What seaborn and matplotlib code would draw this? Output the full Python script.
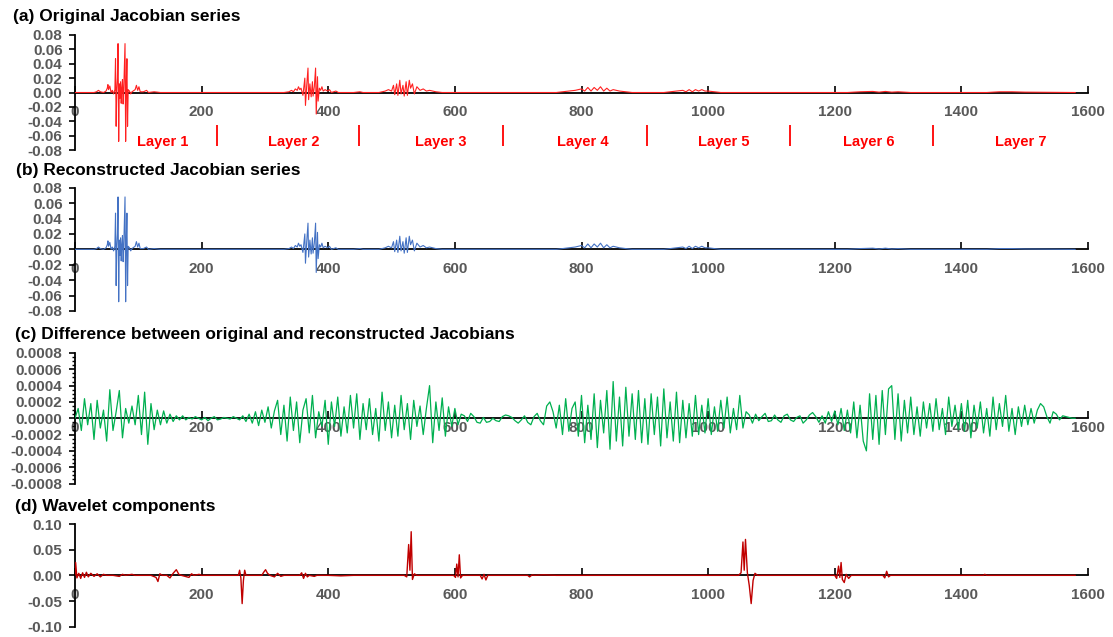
import numpy as np
import pandas as pd
import matplotlib
matplotlib.use("Agg")
import matplotlib.pyplot as plt
import seaborn as sns
from matplotlib.ticker import FormatStrFormatter, MultipleLocator

# ---------------- data ----------------
# (a) original Jacobian series: sparse (index, value) points, zero elsewhere
orig_x = [0, 30, 34, 37, 40, 45, 49, 51, 52, 53, 55, 57, 59, 61, 63, 64, 65, 66, 67, 68, 69, 70, 71, 72, 73,
          74, 75, 76, 77, 79, 80, 81, 82, 83, 84, 86, 88, 90, 95, 97, 99, 101, 103, 108, 113, 116, 125, 135,
          330, 338, 342, 345, 348, 351, 353, 355, 357, 360, 363, 364, 366, 368, 369, 371, 373, 375, 376,
          378, 380, 381, 383, 384, 386, 388, 390, 392, 395, 399, 402, 405, 412, 416, 440, 450, 455,
          480, 490, 495, 500, 503, 505, 508, 510, 513, 515, 518, 520, 523, 525, 528, 530, 533, 536, 540,
          545, 550, 555, 560, 570, 580,
          760, 770, 780, 790, 800, 805, 810, 815, 820, 825, 830, 835, 840, 845, 850, 860, 870, 880,
          930, 940, 950, 960, 965, 970, 975, 980, 985, 990, 995, 1000, 1010, 1020,
          1220, 1240, 1260, 1270, 1280, 1290, 1300, 1320,
          1440, 1460, 1480, 1500, 1580]
orig_y = [0, 0, 0.001, 0.003, 0.001, 0, 0.002, 0.006, 0.011, 0.004, 0.009, 0, 0.003, -0.002, 0.004, 0.047,
          -0.047, 0.004, 0.020, 0.068, -0.068, 0.012, -0.008, 0.015, -0.015,
          0.006, 0.018, -0.016, 0.004, 0.068, -0.068, 0.010, 0.047, -0.047, 0.004, 0.002, -0.002, 0.001, 0.004,
          0.010, 0.003, 0.008, 0.001, 0.001, 0.003, 0, 0.001, 0,
          0, 0.001, 0.003, 0.001, 0.005, 0.003, 0.008, 0.004, 0.006, -0.004, 0.020, -0.018, 0.010, 0.034,
          -0.010, 0.012, -0.006, 0.015, -0.005,
          0.008, 0.034, -0.030, 0.022, -0.012, 0.006, 0.003, 0.008, 0.002, 0.004, 0.002, 0.004, 0, 0.002, 0,
          0, 0.001, 0,
          0, 0.002, 0.004, 0.002, 0.010, -0.003, 0.012, -0.004, 0.017, -0.002, 0.010, -0.005, 0.015, -0.004,
          0.017, 0.006, 0.012, -0.002, 0.008,
          0.003, 0.005, 0.002, 0.003, 0.001, 0,
          0, 0.001, 0.002, 0.003, 0.005, 0.002, 0.007, 0.002, 0.007, 0.003, 0.008, 0.002, 0.006, 0.002,
          0.004, 0.002, 0.001, 0,
          0, 0.001, 0.002, 0.003, 0.001, 0.004, 0.001, 0.004, 0.002, 0.004, 0.002, 0.002, 0.001, 0,
          0, 0.001, 0.0015, 0.0005, 0.0015, 0.0005, 0.001, 0,
          0, 0.001, 0.001, 0.0005, 0]

# (b) reconstructed series: indistinguishable from (a) at this scale
recon_x = list(orig_x)
recon_y = list(orig_y)

# (c) difference series, sampled every 5 indices (0..1580), values in units of 1e-4
diff_step = 5
diff_e4 = [
    0.0, 1.2, -1.5, 2.4, -0.8, 1.8, -2.6, 2.2, -1.2, 1.0, -2.8, 3.5, -1.5, 0.8, 3.4, -2.4, 1.2, -0.6, 1.5, -0.8,
    2.8, -2.0, 3.2, -3.2, 1.8, -1.4, 1.0, -0.8, 0.9, -0.6, 0.5, -0.4, 0.3, -0.2, 0.3, -0.2, 0.1, -0.1, 0.2, 0.0,
    -0.2, 0.1, -0.3, 0.0, 0.2, -0.2, -0.1, 0.1, 0.0, -0.1, 0.2, 0.0, -0.2, 0.3, -0.4, 0.5, -0.6, 0.8, -0.9, 1.0,
    -0.5, 1.4, -1.2, 0.9, 2.2, -2.0, 1.6, -2.8, 2.6, -1.5, 2.0, -3.0, 1.0, 2.4, -1.8, 2.8, -2.4, 0.8, -1.0, 2.2,
    -3.2, 2.0, -1.0, 2.6, -2.2, 1.4, -1.8, 2.8, -1.2, 3.0, -2.6, 1.8, -1.4, 2.4, -2.0, 1.2, -2.8, 3.2, -1.5, 2.0,
    -2.4, 1.6, -2.2, 2.8, -1.4, 1.8, -2.6, 2.2, -1.0, 1.5, -2.0, 1.2, 4.0, -3.0, 2.0, -1.5, 2.5, -2.2, 1.4, -1.0,
    1.2, -0.8, 0.5, 0.3, -0.4, 0.6, 0.2, -0.5, -0.6, 0.1, -0.5, -0.4, 0.0, -0.3, -0.4, 0.2, 0.4, 0.3, 0.1, -0.3,
    -0.6, -0.2, 0.3, -0.5, -0.8, 0.2, 0.6, -0.3, -0.8, 1.5, 2.0, 0.8, -1.2, 1.6, -2.0, 2.4, -1.6, 1.2, 2.0, -2.2,
    2.8, -3.0, 1.6, -2.6, 3.0, -3.6, 2.2, -1.8, 3.4, -3.8, 4.5, -2.8, 2.6, -3.4, 3.8, -2.2, 3.0, -2.6, 3.4, -3.0,
    2.4, -3.2, 3.0, -2.0, 2.6, -3.4, 3.6, -2.4, 2.0, -2.8, 3.2, -3.0, 2.2, -2.4, 1.8, -2.2, 2.8, -2.0, 1.6, -1.8,
    2.4, -2.0, 1.4, -1.6, 2.2, -1.2, 2.6, -1.8, 1.2, -1.4, 2.8, -1.2, 0.8, 0.4, -0.6, 0.5, -0.3, 0.2, 0.6, -0.4,
    -0.3, 0.4, -0.2, -0.5, 0.3, 0.5, -0.2, -0.4, 0.1, 0.3, -0.6, -0.2, 0.4, 0.7, 0.2, -0.5, 0.3, -0.6, 0.8, -0.4,
    0.9, -0.8, 1.2, -1.5, 1.0, -1.8, 2.0, -2.4, 1.6, -2.8, -4.0, 3.0, -2.6, 2.8, -3.2, 3.4, -2.0, 3.6, 4.0, -2.6,
    3.0, -2.8, 2.2, -1.8, 2.6, -2.0, 1.4, -2.2, 2.0, -1.2, 1.8, -1.6, 2.4, -1.4, 1.2, -2.0, 2.6, -1.0, 1.6, -1.4,
    1.8, -1.6, 2.2, -2.4, 1.6, -1.2, 2.0, -1.8, 1.2, -2.2, 2.6, -1.4, 1.8, -1.0, 2.8, -1.6, 1.2, -2.0, 1.4, -1.0,
    1.6, -0.8, 1.2, -0.6, 1.0, 1.8, 1.4, 0.2, -0.6, 0.8, 0.5, -0.2, 0.3, 0.2, 0.1, 0.0, 0.0,
]

# (d) wavelet components: sparse (index, value) points
wave_x = [0, 1, 3, 6, 9, 12, 15, 18, 21, 25, 30, 35, 40, 45, 50, 60, 70, 75, 80, 90, 95, 120, 128, 131, 134,
          138, 145, 150, 155, 160, 164, 168, 180, 184, 188, 196, 200, 258, 260, 262, 264, 266, 268, 270,
          295, 298, 301, 304, 308, 315, 320, 325, 330, 355, 358, 361, 364, 367, 370, 378, 382, 400, 420,
          440, 520, 524, 527, 529, 531, 533, 536, 540, 598, 601, 603, 605, 607, 609, 612, 640, 643, 646,
          649, 652, 715, 718, 722, 726, 740, 760, 1048, 1052, 1055, 1057, 1059, 1062, 1065, 1068, 1071,
          1074, 1078, 1200, 1203, 1206, 1208, 1210, 1212, 1215, 1218, 1222, 1226, 1276, 1279, 1282, 1285,
          1288, 1435, 1437, 1440, 1580]
wave_y = [0.0, 0.025, -0.005, 0.004, -0.006, 0.005, -0.004, 0.006, -0.003, 0.004, -0.002, 0.003, -0.003,
          0.002, 0, 0, -0.002, 0.002, 0, 0.002, 0, 0, -0.004, -0.012, 0.003,
          0, 0, -0.005, 0.004, 0.011, 0.002, 0, -0.004, 0.003, 0, 0.002, 0, 0, 0.010, -0.005, -0.055, -0.010,
          0.010, 0,
          0, 0.006, 0.011, 0.004, 0, -0.003, 0.004, -0.002, 0, 0, 0.005, -0.006, 0.004, -0.003, 0, -0.002, 0,
          0, -0.001,
          0, 0, -0.003, 0.060, 0.010, 0.085, -0.008, 0.003, 0, 0, -0.004, 0.022, -0.003, 0.040, -0.005, 0, 0,
          -0.007, 0.002,
          -0.009, 0, 0, -0.003, 0.001, 0, 0.001, 0, 0, 0.005, 0.065, 0.010, 0.070, 0.005, -0.020, -0.055,
          -0.010,
          0.004, 0, 0, -0.006, 0.018, -0.004, 0.025, -0.008, -0.014, 0.002, -0.006, 0, 0, -0.005, 0.008,
          -0.003,
          0, 0, 0.002, 0, 0]

# layer annotations of panel (a)
layer_names = ["Layer 1", "Layer 2", "Layer 3", "Layer 4", "Layer 5", "Layer 6", "Layer 7"]
layer_label_x = [139, 345, 578, 802, 1025, 1253, 1493]
layer_bounds = [224, 449, 676, 903, 1129, 1355]

titles = ["(a) Original Jacobian series",
          "(b) Reconstructed Jacobian series",
          "(c) Difference between original and reconstructed Jacobians",
          "(d) Wavelet components"]
x_ticks = [0, 200, 400, 600, 800, 1000, 1200, 1400, 1600]

# ---------------- figure ----------------
sns.set_style("white")
plt.rcParams['font.family'] = ['Liberation Sans', 'DejaVu Sans']
plt.rcParams['axes.unicode_minus'] = False

W, H = 1113, 637
fig = plt.figure(figsize=(W / 100, H / 100), dpi=100)

def make_axes(top_px, bottom_px):
    return fig.add_axes([75 / W, 1 - bottom_px / H, 1013 / W, (bottom_px - top_px) / H])

GRAY = '#595959'

def style(ax, lim, step, fmt, xpad, minor=None):
    ax.set_xlim(0, 1600)
    ax.set_ylim(-lim, lim)
    ax.patch.set_alpha(0)
    for s in ['top', 'right']:
        ax.spines[s].set_visible(False)
    ax.spines['bottom'].set_position(('data', 0))
    for s in ['left', 'bottom']:
        ax.spines[s].set_color('black')
        ax.spines[s].set_linewidth(1.3)
    ax.set_xticks(x_ticks)
    ax.yaxis.set_major_locator(MultipleLocator(step))
    if minor:
        ax.yaxis.set_minor_locator(MultipleLocator(minor))
        ax.tick_params(axis='y', which='minor', left=True, direction='out', length=2.5, width=1.0, color='black')
    ax.yaxis.set_major_formatter(FormatStrFormatter(fmt))
    ax.tick_params(axis='x', bottom=True, direction='in', length=5, width=1.2, pad=xpad,
                   labelsize=11, labelcolor=GRAY, color='black')
    ax.tick_params(axis='y', left=True, direction='out', length=4, width=1.2, pad=5,
                   labelsize=11, labelcolor=GRAY, color='black')
    for lbl in ax.get_xticklabels() + ax.get_yticklabels():
        lbl.set_fontweight('bold')
    ax.set_xlabel('')
    ax.set_ylabel('')

# (a)
ax_a = make_axes(35, 150)
sns.lineplot(x=orig_x, y=orig_y, ax=ax_a, color='#FF2020', linewidth=0.8, estimator=None, zorder=3)
style(ax_a, 0.08, 0.02, '%.2f', 9)
ax_a.vlines(layer_bounds, -0.075, -0.045, color='#FF0000', linewidth=1.3)
for name, lx in zip(layer_names, layer_label_x):
    ax_a.text(lx, -0.069, name, color='#FF0000', fontsize=10.5, fontweight='bold', ha='center', va='center')

# (b)
ax_b = make_axes(187.7, 311)
sns.lineplot(x=recon_x, y=recon_y, ax=ax_b, color='#4472C4', linewidth=0.8, estimator=None, zorder=3)
style(ax_b, 0.08, 0.02, '%.2f', 9)

# (c)
ax_c = make_axes(353, 483.5)
diff_x = np.arange(len(diff_e4)) * diff_step
diff_y = np.array(diff_e4) * 1e-4
sns.lineplot(x=diff_x, y=diff_y, ax=ax_c, color='#00B050', linewidth=0.9, estimator=None, zorder=3)
style(ax_c, 0.0008, 0.0002, '%.4f', 2, minor=0.00005)

# (d)
ax_d = make_axes(524, 626.7)
sns.lineplot(x=wave_x, y=wave_y, ax=ax_d, color='#C00000', linewidth=1.0, estimator=None, zorder=3)
style(ax_d, 0.10, 0.05, '%.2f', 9)

title_pos = [(13, 17), (16, 170), (15, 335), (15, 507)]
for t, (tx, ty) in zip(titles, title_pos):
    fig.text(tx / W, 1 - ty / H, t, fontsize=12.5, fontweight='bold', color='black', va='center', ha='left')

fig.savefig('out.png', dpi=100)
